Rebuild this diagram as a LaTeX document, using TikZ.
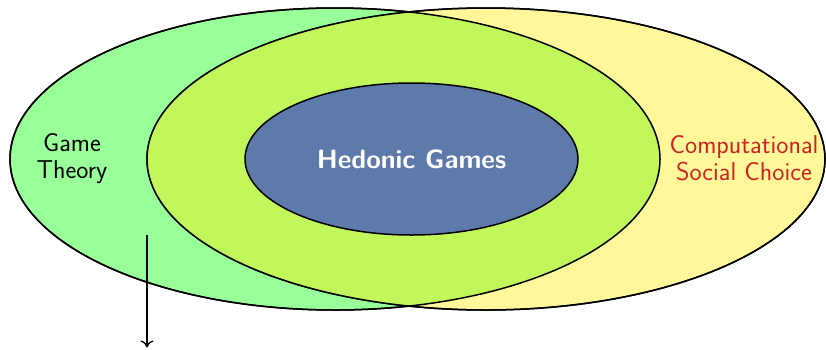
\documentclass[tikz,border=0pt]{standalone}
\usepackage{fontspec}
\usetikzlibrary{shapes.geometric,arrows.meta}
\definecolor{gtgreen}{RGB}{153,255,153}
\definecolor{cscyellow}{RGB}{255,247,153}
\definecolor{overlaplime}{RGB}{194,247,92}
\definecolor{hgblue}{RGB}{94,122,170}
\definecolor{cscred}{RGB}{204,34,34}
\tikzset{
  field/.style={ellipse, draw=black, line width=1.5pt, inner sep=0pt},
  fieldlabel/.style={font=\sffamily\fontsize{25.8}{27}\selectfont, align=center},
}
\begin{document}
\begin{tikzpicture}[x=1pt,y=-1pt]
\useasboundingbox (0,0) rectangle (826,349);
% the two research fields
\node[field, fill=gtgreen, minimum width=650pt, minimum height=302pt] (gt) at (335,159) {};
\node[field, fill=cscyellow, minimum width=678pt, minimum height=302pt] (csc) at (486,159) {};
% their common part
\begin{scope}
  \clip (335,159) ellipse [x radius=325, y radius=151];
  \fill[overlaplime] (486,159) ellipse [x radius=339, y radius=151];
\end{scope}
\draw[line width=1.5pt] (gt.center) ellipse [x radius=325, y radius=151];
\draw[line width=1.5pt] (csc.center) ellipse [x radius=339, y radius=151];
% the core topic
\node[field, fill=hgblue, minimum width=333pt, minimum height=152pt,
      text=white, font=\sffamily\bfseries\fontsize{26.5}{30}\selectfont] (hg) at (411.5,159) {Hedonic Games};
% labels
\node[fieldlabel] (gtl) at (72,159) {Game\\Theory};
\node[fieldlabel, text=cscred] (cscl) at (744,158) {Computational\\Social Choice};
% pointer
\coordinate (arrtop) at (147,235);
\coordinate (arrbot) at (147,347.5);
\draw[-{Computer Modern Rightarrow[length=7pt,width=13pt]}, line width=1.3pt] (arrtop) -- (arrbot);
\end{tikzpicture}
\end{document}
